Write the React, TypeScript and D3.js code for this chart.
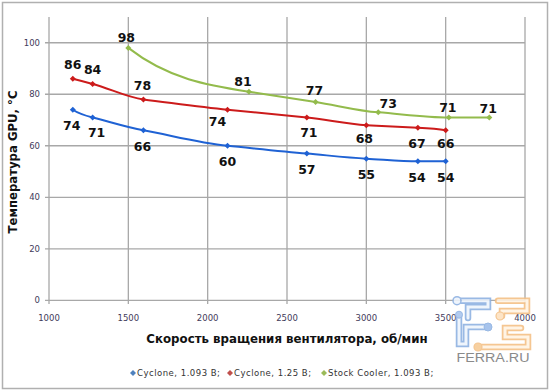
import React from 'react';
import * as d3 from 'd3';

// fan speed (rpm) and GPU temperature readings
const rpmCyclone = [1150, 1275, 1595, 2125, 2625, 3000, 3325, 3500];
const tempCyclone1093 = [74, 71, 66, 60, 57, 55, 54, 54];
const tempCyclone125 = [86, 84, 78, 74, 71, 68, 67, 66];
const rpmStock = [1500, 2260, 2680, 3075, 3520, 3775];
const tempStock = [98, 81, 77, 73, 71, 71];

const xTicks = [1000, 1500, 2000, 2500, 3000, 3500, 4000];
const yTicks = [0, 20, 40, 60, 80, 100];

const seriesNames = ['Cyclone, 1.093 В;', 'Cyclone, 1.25 В;', 'Stock Cooler, 1.093 В;'];

// label placement per point: [dx, dy]
const blueLabelOffsets = [[-1, 16], [4, 15], [-1, 16], [0, 16], [0, 16], [0, 16], [-1, 16], [0, 16]];
const redLabelOffsets = [[0, -14], [0, -14], [-1, -14], [-10, 12], [2, 15], [-2, 13], [-1, 16], [0, 13]];
const greenLabelOffsets = [[-2, -10], [-6, -10], [-1, -11], [10, -9], [-1, -10], [-1, -9]];

const W = 550;
const H = 391;

// smooth line through the points (Excel-like smoothing, hermite segments)
const smoothPath = (pts: [number, number][]) => {
  const n = pts.length;
  const s: number[] = [];
  for (let i = 0; i < n - 1; i++) {
    s.push((pts[i + 1][1] - pts[i][1]) / (pts[i + 1][0] - pts[i][0]));
  }
  const m: number[] = new Array(n).fill(0);
  for (let i = 1; i < n - 1; i++) {
    const a = s[i - 1], b = s[i];
    m[i] = a * b > 0 ? Math.sign(a) * Math.min(Math.abs(a), Math.abs(b)) : 0;
  }
  m[0] = 3 * s[0] - 2 * m[1];
  if (m[0] * s[0] < 0) m[0] = 0;
  m[n - 1] = 3 * s[n - 2] - 2 * m[n - 2];
  if (m[n - 1] * s[n - 2] < 0) m[n - 1] = 0;
  const p = d3.path();
  p.moveTo(pts[0][0], pts[0][1]);
  for (let i = 0; i < n - 1; i++) {
    const h = (pts[i + 1][0] - pts[i][0]) / 3;
    p.bezierCurveTo(
      pts[i][0] + h, pts[i][1] + m[i] * h,
      pts[i + 1][0] - h, pts[i + 1][1] - m[i + 1] * h,
      pts[i + 1][0], pts[i + 1][1]
    );
  }
  return p.toString();
};

const App = () => {
  const x = d3.scaleLinear().domain([1000, 4000]).range([49, 525]);
  const y = d3.scaleLinear().domain([0, 110]).range([300.3, 17]);

  const diamond = d3.symbol(d3.symbolSquare, 18)();

  const series = [
    { name: seriesNames[0], xs: rpmCyclone, ys: tempCyclone1093, color: '#1f62d4', legend: '#4f81bd', offsets: blueLabelOffsets },
    { name: seriesNames[1], xs: rpmCyclone, ys: tempCyclone125, color: '#cc1b1b', legend: '#c0504d', offsets: redLabelOffsets },
    { name: seriesNames[2], xs: rpmStock, ys: tempStock, color: '#93bb4c', legend: '#9bbb59', offsets: greenLabelOffsets },
  ];

  const legendX = [133, 230, 324];

  const gridColor = '#a8a8a8';
  const tickFont = 'DejaVu Sans, Verdana, sans-serif';

  const bluePipes = 'M457,300.7 H488 V307 H468 V318 M459,314.7 V344 H466 V327 H488';
  const orangePipes = 'M498,300.7 H527 V311 H502 V316 M478,347 H528 V337 H505 V328 H521';

  return (
    <svg width={W} height={H} style={{ position: 'absolute', left: 0, top: 0, background: '#fff' }}>
      <rect x={2.5} y={2.5} width={545} height={386} fill="#fff" stroke="#b0b0b0" strokeWidth={1.5} />

      {/* grid */}
      {yTicks.map(t => (
        <g key={'y' + t}>
          <line x1={45} x2={525} y1={y(t)} y2={y(t)} stroke={gridColor} strokeWidth={1.3} />
          <text x={40} y={y(t)} textAnchor="end" dominantBaseline="central"
            style={{ fontFamily: tickFont, fontSize: 8.5, fill: '#3f3a5a' }}>{t}</text>
        </g>
      ))}
      {xTicks.map(t => (
        <g key={'x' + t}>
          <line x1={x(t)} x2={x(t)} y1={17} y2={304} stroke={gridColor} strokeWidth={1.3} />
          <text x={x(t)} y={318} textAnchor="middle" dominantBaseline="central"
            style={{ fontFamily: tickFont, fontSize: 8.5, fill: '#3f3a5a' }}>{t}</text>
        </g>
      ))}

      {/* series */}
      {series.map((s, si) => {
        const pts: [number, number][] = s.xs.map((v, i) => [v, s.ys[i]]);
        const px: [number, number][] = pts.map(p => [x(p[0]), y(p[1])]);
        return (
          <g key={'s' + si}>
            <path d={smoothPath(px)} fill="none" stroke={s.color} strokeWidth={2} />
            {pts.map((p, i) => (
              <path key={i} d={diamond || ''} fill={s.color}
                transform={`translate(${x(p[0])},${y(p[1])}) rotate(45)`} />
            ))}
            {pts.map((p, i) => (
              <text key={'l' + i} x={x(p[0]) + s.offsets[i][0]} y={y(p[1]) + s.offsets[i][1]}
                textAnchor="middle" dominantBaseline="central"
                style={{ fontFamily: tickFont, fontSize: 12.5, fontWeight: 'bold', fill: '#111' }}>{p[1]}</text>
            ))}
          </g>
        );
      })}

      {/* axis titles */}
      <text transform="translate(13,162) rotate(-90)" textAnchor="middle" dominantBaseline="central"
        style={{ fontFamily: tickFont, fontSize: 11.7, fontWeight: 'bold', fill: '#111' }}>Температура GPU, °C</text>
      <text x={287} y={339} textAnchor="middle" dominantBaseline="central"
        style={{ fontFamily: tickFont, fontSize: 11.8, fontWeight: 'bold', fill: '#111' }}>Скорость вращения вентилятора, об/мин</text>

      {/* legend */}
      {series.map((s, si) => (
        <g key={'lg' + si} transform={`translate(${legendX[si]},373)`}>
          <path d={diamond || ''} fill={s.legend} transform="rotate(45)" />
          <text x={4} y={0} dominantBaseline="central"
            style={{ fontFamily: tickFont, fontSize: 8.5, letterSpacing: 0.5, fill: '#333' }}>{s.name}</text>
        </g>
      ))}

      {/* watermark */}
      <g opacity={0.9}>
        <g fill="none" strokeLinecap="round" strokeLinejoin="miter">
          <path d={bluePipes} stroke="#8fb2e2" strokeWidth={6.5} />
          <path d={bluePipes} stroke="#eef4fc" strokeWidth={3} />
          <path d={orangePipes} stroke="#f4c086" strokeWidth={6.5} />
          <path d={orangePipes} stroke="#fff3e3" strokeWidth={3} />
        </g>
        <circle cx={457} cy={300.7} r={4} fill="#eef4fc" stroke="#8fb2e2" strokeWidth={1.5} />
        <circle cx={459} cy={314.7} r={3.5} fill="#aac6ee" stroke="#8fb2e2" strokeWidth={1} />
        <circle cx={488} cy={327} r={4} fill="#9dbdea" stroke="#8fb2e2" strokeWidth={1} />
        <circle cx={500} cy={316} r={4} fill="#fde2c0" stroke="#f4c086" strokeWidth={1.2} />
        <circle cx={478} cy={347} r={4} fill="#f7cc96" stroke="#f4c086" strokeWidth={1.2} />
        <text x={456.5} y={362} textLength={73} lengthAdjust="spacingAndGlyphs"
          style={{ fontFamily: 'Liberation Sans, Arial, sans-serif', fontSize: 12, fill: '#7e7e7e' }}>FERRA.RU</text>
      </g>
    </svg>
  );
};

export default App;
